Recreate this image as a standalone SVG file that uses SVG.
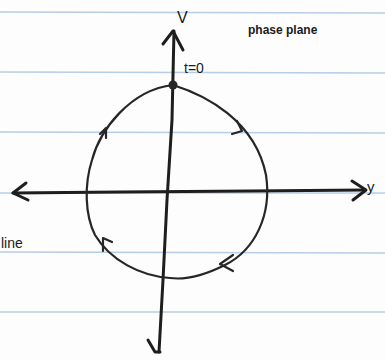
<svg xmlns="http://www.w3.org/2000/svg" width="385" height="360" viewBox="0 0 385 360">
<style>
.rule{stroke:#b5cde6;stroke-width:1.5}
.ax{fill:none;stroke:#1e1e1e;stroke-width:3;stroke-linecap:round;stroke-linejoin:round}
.orb{fill:none;stroke:#262626;stroke-width:2.2;stroke-linecap:round;stroke-linejoin:round}
.lbl{font-family:"Liberation Sans",sans-serif;fill:#1a1a1a}
</style>
<rect width="385" height="360" fill="#fdfdfd"/>
<g id="paper">
<line class="rule" x1="0" y1="12" x2="385" y2="13"/>
<line class="rule" x1="0" y1="72" x2="385" y2="73"/>
<line class="rule" x1="0" y1="132" x2="385" y2="133"/>
<line class="rule" x1="0" y1="193" x2="385" y2="193"/>
<line class="rule" x1="0" y1="252" x2="385" y2="253"/>
<line class="rule" x1="0" y1="312" x2="385" y2="312"/>
</g>
<g id="connectors">
<g id="v-axis">
<path class="ax" d="M174,31 L172,120 L167,200 L163,280 L159,352"/>
<path class="ax" d="M163,44 L173,31 L183,50"/>
<path class="ax" d="M148,340 L155,352 L160,352"/>
</g>
<g id="y-axis">
<path class="ax" d="M13,193 L120,192 L250,191 L365,190"/>
<path class="ax" d="M26,183 L13,193 L28,200"/>
<path class="ax" d="M352,181 L366,190 L353,200"/>
</g>
</g>
<g id="orbit">
<path class="orb" d="M173,85 C205,95 255,120 266,175 C272,215 255,250 225,265 C205,275 185,280 170,278 C140,276 110,260 95,235 C85,215 84,185 92,160 C100,130 130,90 173,85 Z"/>
<path class="orb" d="M237,121 L242,131 L232,134"/>
<path class="orb" d="M233,255 L220,264 L233,271"/>
<path class="orb" d="M100,134 L106,128 L106,138"/>
<path class="orb" d="M103,251 L103,238 L112,242"/>
</g>
<g id="t0">
<circle cx="173" cy="85" r="4.5" fill="#262626"/>
<text class="lbl" x="184" y="73" font-size="14">t=0</text>
</g>
<g id="labels">
<text class="lbl" x="177" y="23" font-size="16">V</text>
<text class="lbl" x="248" y="34" font-size="12" font-weight="bold">phase plane</text>
<text class="lbl" x="367" y="192" font-size="15">y</text>
<text class="lbl" x="1" y="248" font-size="14">line</text>
</g>
</svg>
